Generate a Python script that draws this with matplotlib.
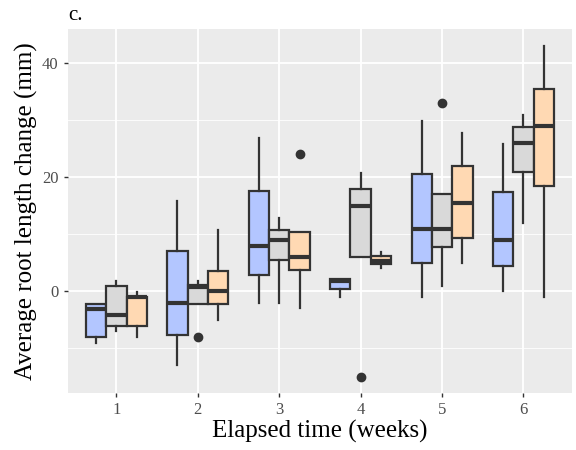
import numpy as np
import matplotlib
matplotlib.use("Agg")
import matplotlib.pyplot as plt

# --------------------------------------------------------------
# Datos (estadísticas de cada caja)
# --------------------------------------------------------------
weeks = [1, 2, 3, 4, 5, 6]
groups = ["blue", "gray", "orange"]
fills = ["#B3C6FF", "#D9D9D9", "#FFD9B3"]

q1 = {
    "blue":   [-8.0, -7.6, 2.9, 0.35, 5.0, 4.4],
    "gray":   [-6.1, -2.2, 5.4, 6.0, 7.7, 20.9],
    "orange": [-6.1, -2.2, 3.7, 4.7, 9.4, 18.5],
}
med = {
    "blue":   [-3.1, -2.0, 7.9, 1.75, 10.9, 8.9],
    "gray":   [-4.1, 0.65, 8.9, 14.9, 10.9, 25.9],
    "orange": [-1.0, 0.0, 6.0, 5.3, 15.4, 28.9],
}
q3 = {
    "blue":   [-2.2, 7.0, 17.5, 2.05, 20.5, 17.4],
    "gray":   [0.9, 1.05, 10.7, 17.9, 17.1, 28.7],
    "orange": [-1.0, 3.5, 10.4, 6.1, 21.9, 35.4],
}
whis_lo = {
    "blue":   [-9.1, -13.0, -2.0, -1.0, -1.0, 0.0],
    "gray":   [-7.0, -2.2, -2.0, 6.0, 0.9, 12.0],
    "orange": [-8.0, -5.0, -3.0, 4.1, 5.0, -1.0],
}
whis_hi = {
    "blue":   [-2.2, 15.8, 26.8, 2.05, 29.9, 25.8],
    "gray":   [1.8, 1.8, 12.9, 20.8, 17.1, 30.8],
    "orange": [-0.2, 10.8, 10.4, 6.8, 27.8, 42.9],
}
outliers = {
    "blue":   [[], [], [], [], [], []],
    "gray":   [[], [-8.0], [], [-15.0], [33.0], []],
    "orange": [[], [], [24.0], [], [], []],
}

# --------------------------------------------------------------
# Figura
# --------------------------------------------------------------
plt.rcParams["font.family"] = ["Liberation Serif", "DejaVu Serif"]
fig = plt.figure(figsize=(5.76, 4.5), dpi=100)
ax = fig.add_axes([0.1172, 0.126, 0.8764, 0.8089])
ax.set_facecolor("#EBEBEB")

# Rejilla estilo ggplot
for y in [-10, 10, 30]:
    ax.axhline(y, color="white", lw=0.6, zorder=0)
for y in [0, 20, 40]:
    ax.axhline(y, color="white", lw=1.3, zorder=0)
for w in weeks:
    ax.axvline(w, color="white", lw=1.3, zorder=0)

width = 0.25
for gi, g in enumerate(groups):
    stats = []
    for i in range(len(weeks)):
        stats.append({
            "med": med[g][i], "q1": q1[g][i], "q3": q3[g][i],
            "whislo": whis_lo[g][i], "whishi": whis_hi[g][i],
            "fliers": outliers[g][i],
        })
    pos = [w + (gi - 1) * width for w in weeks]
    ax.bxp(stats, positions=pos, widths=width * 0.999, patch_artist=True,
           showcaps=False,
           boxprops=dict(facecolor=fills[gi], edgecolor="#333333", lw=1.6),
           medianprops=dict(color="#333333", lw=3),
           whiskerprops=dict(color="#333333", lw=1.6),
           flierprops=dict(marker="o", markerfacecolor="#333333",
                           markeredgecolor="#333333", markersize=6),
           zorder=3)

ax.set_xlim(0.4, 6.6)
ax.set_ylim(-17.9, 45.9)
ax.set_xticks(weeks)
ax.set_xticklabels([str(w) for w in weeks])
ax.set_yticks([0, 20, 40])
ax.tick_params(axis="both", colors="#333333", labelcolor="#4D4D4D",
               labelsize=12, length=3, width=1)
for s in ax.spines.values():
    s.set_visible(False)

ax.set_xlabel("Elapsed time (weeks)", fontsize=18, labelpad=1)
ax.set_ylabel("Average root length change (mm)", fontsize=18, labelpad=3)
fig.text(0.119, 0.945, "c.", fontsize=15, ha="left", va="bottom")

fig.savefig("out.png", dpi=100)
